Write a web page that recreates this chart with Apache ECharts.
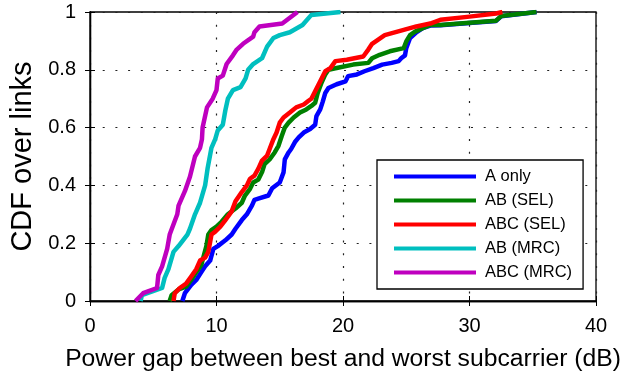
<!DOCTYPE html>
<html>
<head>
<meta charset="utf-8">
<script src="https://cdn.jsdelivr.net/npm/echarts@6/dist/echarts.min.js"></script>
<style>
html,body{margin:0;padding:0;background:#fff;}
#chart{width:634px;height:377px;}
</style>
</head>
<body>
<div id="chart"></div>
<script>
// ---- Data (x = power gap in dB, y = CDF) ----
var seriesNames = ['A only', 'AB (SEL)', 'ABC (SEL)', 'AB (MRC)', 'ABC (MRC)'];
var xTicks = [0, 10, 20, 30, 40];
var yTicks = [0, 0.2, 0.4, 0.6, 0.8, 1];

var aOnly = [[7.3,0],[7.5,0.027],[8.0,0.056],[8.4,0.073],[8.8,0.10],[9.1,0.12],[9.5,0.14],[9.75,0.18],[10.1,0.19],[10.7,0.21],[11.2,0.23],[11.5,0.25],[12.0,0.28],[12.4,0.30],[12.8,0.33],[13.0,0.35],[13.3,0.354],[14.1,0.365],[14.4,0.39],[15.0,0.41],[15.3,0.445],[15.4,0.49],[15.7,0.514],[15.9,0.526],[16.2,0.55],[16.5,0.566],[16.9,0.583],[17.4,0.595],[17.8,0.61],[17.9,0.64],[18.2,0.663],[18.4,0.69],[18.6,0.72],[18.85,0.737],[19.5,0.75],[20.2,0.76],[20.4,0.778],[21.1,0.784],[21.7,0.795],[22.4,0.806],[23.1,0.818],[23.85,0.824],[24.4,0.83],[24.6,0.84],[24.9,0.85],[25.0,0.875],[25.3,0.91],[25.8,0.93],[26.3,0.944],[26.9,0.953],[27.7,0.954],[30.0,0.962],[32.1,0.969],[32.5,0.985],[35.3,1.0]];

var abSel = [[6.3,0],[6.45,0.02],[7.0,0.04],[7.6,0.05],[8.0,0.073],[8.4,0.10],[8.8,0.125],[9.2,0.19],[9.35,0.23],[9.6,0.245],[10.0,0.257],[10.4,0.274],[10.9,0.30],[11.5,0.32],[12.0,0.34],[12.25,0.365],[12.65,0.388],[12.9,0.41],[13.3,0.42],[13.6,0.446],[13.8,0.474],[14.2,0.49],[14.6,0.514],[14.9,0.537],[15.15,0.57],[15.4,0.60],[15.7,0.617],[16.1,0.635],[16.6,0.652],[17.1,0.663],[17.5,0.675],[17.8,0.686],[18.0,0.72],[18.3,0.755],[18.6,0.784],[18.85,0.80],[19.5,0.806],[20.8,0.818],[22.0,0.824],[22.3,0.84],[22.9,0.852],[23.7,0.864],[24.8,0.875],[25.0,0.898],[25.3,0.92],[25.7,0.932],[26.3,0.944],[26.9,0.955],[27.7,0.955],[30.0,0.963],[32.1,0.97],[32.5,0.986],[35.3,1.0]];

var abcSel = [[6.6,0],[6.7,0.027],[7.1,0.045],[7.6,0.06],[8.0,0.085],[8.4,0.11],[8.7,0.14],[9.1,0.15],[9.35,0.17],[9.5,0.205],[9.6,0.23],[9.9,0.24],[10.3,0.257],[10.7,0.28],[11.2,0.31],[11.5,0.345],[12.0,0.377],[12.4,0.40],[12.65,0.423],[13.0,0.434],[13.3,0.457],[13.6,0.486],[14.0,0.503],[14.2,0.526],[14.5,0.56],[14.75,0.583],[15.0,0.617],[15.3,0.635],[15.8,0.652],[16.3,0.67],[16.9,0.68],[17.25,0.692],[17.5,0.70],[17.8,0.726],[18.2,0.76],[18.6,0.795],[19.0,0.806],[19.4,0.83],[20.3,0.835],[21.6,0.846],[22.0,0.87],[22.3,0.89],[23.3,0.92],[24.8,0.938],[25.8,0.95],[26.9,0.96],[27.7,0.973],[30.0,0.984],[32.1,0.995],[32.6,1.0]];

var abMrc = [[4.0,0],[4.1,0.02],[5.7,0.045],[5.9,0.08],[6.2,0.11],[6.6,0.17],[7.0,0.19],[7.7,0.23],[7.9,0.25],[8.3,0.30],[8.7,0.34],[9.1,0.40],[9.3,0.46],[9.6,0.53],[9.9,0.56],[10.1,0.59],[10.5,0.61],[10.7,0.66],[10.9,0.70],[11.3,0.73],[11.9,0.74],[12.3,0.77],[12.5,0.80],[12.9,0.82],[13.6,0.84],[14.0,0.88],[14.5,0.91],[15.0,0.92],[15.8,0.93],[16.8,0.955],[17.5,0.99],[19.8,1.0]];

var abcMrc = [[3.6,0],[4.2,0.027],[5.3,0.045],[5.4,0.09],[5.7,0.12],[6.1,0.18],[6.3,0.23],[6.9,0.30],[7.0,0.33],[7.5,0.38],[7.9,0.43],[8.3,0.50],[8.7,0.53],[8.85,0.56],[8.9,0.60],[9.1,0.64],[9.25,0.67],[9.7,0.70],[10.0,0.73],[10.1,0.77],[10.5,0.78],[10.8,0.82],[11.3,0.85],[11.6,0.87],[12.1,0.89],[12.9,0.915],[13.0,0.93],[13.4,0.95],[15.2,0.96],[16.4,1.0]];

var seriesData = [aOnly, abSel, abcSel, abMrc, abcMrc];
var colors = ['#0000ff', '#008000', '#ff0000', '#00bfbf', '#bf00bf'];

var FONT = '"Liberation Sans", Arial, Helvetica, sans-serif';
var chart = echarts.init(document.getElementById('chart'), null, {renderer: 'canvas'});

var dotted = {show: true, lineStyle: {color: '#222', width: 1.2, type: [2, 10.7]}};
var option = {
  animation: false,
  backgroundColor: '#fff',
  grid: {left: 90, right: 38, top: 12, bottom: 74, show: true, borderColor: '#000', borderWidth: 1.3, backgroundColor: 'transparent'},
  legend: {
    data: seriesNames,
    orient: 'vertical',
    left: 377, top: 160,
    icon: 'rect',
    itemWidth: 82, itemHeight: 4,
    itemGap: 7,
    padding: [8, 11, 8, 17],
    borderColor: '#000', borderWidth: 1.3,
    backgroundColor: '#fff',
    textStyle: {fontFamily: FONT, fontSize: 16.5, color: '#000', lineHeight: 17, padding: [0, 0, 0, 4]}
  },
  xAxis: [{
    type: 'value', min: 0, max: 40, interval: 10, position: 'bottom',
    name: 'Power gap between best and worst subcarrier (dB)', nameLocation: 'middle', nameGap: 46,
    nameTextStyle: {fontFamily: FONT, fontSize: 24.7, color: '#000'},
    axisLine: {show: true, lineStyle: {color: '#000', width: 1.3}},
    axisTick: {show: true, inside: true, length: 5, lineStyle: {color: '#000'}},
    axisLabel: {fontFamily: FONT, fontSize: 20, color: '#000', margin: 15, formatter: function(v){return xTicks.indexOf(v) >= 0 ? String(v) : '';}},
    splitLine: dotted
  }, {
    type: 'value', min: 0, max: 40, interval: 10, position: 'top',
    axisLine: {show: true, lineStyle: {color: '#000', width: 1.3}},
    axisTick: {show: true, inside: true, length: 5, lineStyle: {color: '#000'}},
    axisLabel: {show: false}, splitLine: {show: false}
  }],
  yAxis: [{
    type: 'value', min: 0, max: 1, interval: 0.2, position: 'left',
    name: 'CDF over links', nameLocation: 'middle', nameGap: 49,
    nameTextStyle: {fontFamily: FONT, fontSize: 29, color: '#000'},
    axisLine: {show: true, lineStyle: {color: '#000', width: 1.3}},
    axisTick: {show: true, inside: true, length: 5, lineStyle: {color: '#000'}},
    axisLabel: {fontFamily: FONT, fontSize: 20, color: '#000', margin: 14, formatter: function(v){
      var t = yTicks.filter(function(k){return Math.abs(k - v) < 1e-9;});
      return t.length ? String(+t[0].toFixed(1)) : '';
    }},
    splitLine: dotted
  }, {
    type: 'value', min: 0, max: 1, interval: 0.2, position: 'right',
    axisLine: {show: true, lineStyle: {color: '#000', width: 1.3}},
    axisTick: {show: true, inside: true, length: 5, lineStyle: {color: '#000'}},
    axisLabel: {show: false}, splitLine: {show: false}
  }],
  series: seriesNames.map(function(name, i){
    return {
      name: name, type: 'line', data: seriesData[i],
      xAxisIndex: 0, yAxisIndex: 0,
      showSymbol: false, symbol: 'none',
      itemStyle: {color: colors[i]},
      lineStyle: {color: colors[i], width: 4.5, join: 'round'},
      z: 2 + i
    };
  })
};
chart.setOption(option);
</script>
</body>
</html>
